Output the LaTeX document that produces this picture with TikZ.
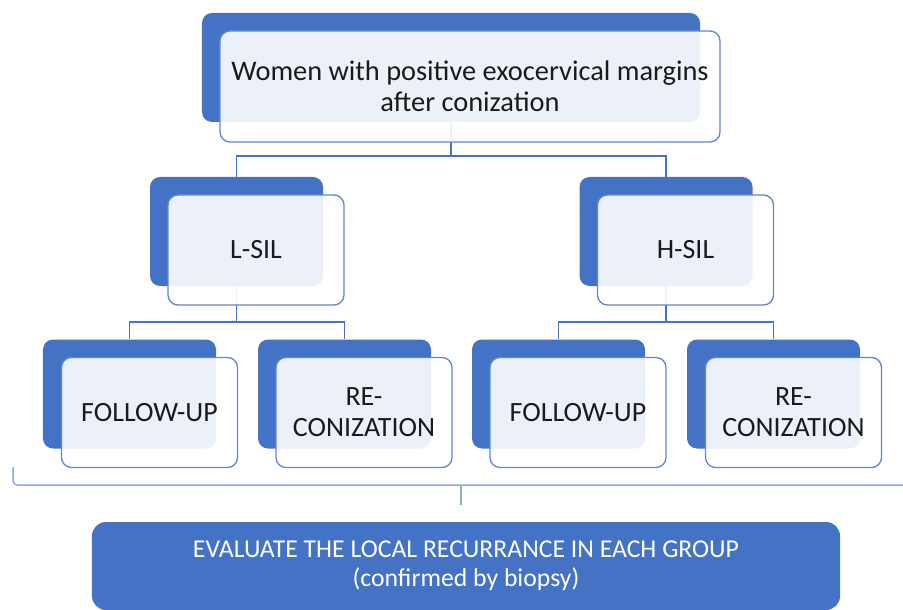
\documentclass[tikz,border=0pt]{standalone}
\usepackage{fontspec}
\setmainfont{Carlito}
\definecolor{accent}{HTML}{4472C4}
\definecolor{bracketblue}{HTML}{8FAADC}
\definecolor{inktext}{HTML}{1A1A1A}
\begin{document}
\begin{tikzpicture}[x=1bp,y=-1bp,
  backbox/.style={fill=accent, draw=none, rounded corners=10bp, inner sep=0pt,
    minimum width=173bp, minimum height=109bp},
  frontbox/.style={fill=white, fill opacity=0.9, text opacity=1, draw=accent!85,
    line width=1.3bp, rounded corners=10bp, inner sep=0pt, align=center,
    minimum width=176bp, minimum height=110bp, text=inktext,
    font=\fontsize{28}{31}\selectfont},
  link/.style={draw=accent, line width=1.5bp},
  bracketline/.style={draw=bracketblue, line width=1.5bp, rounded corners=4bp},
  resultbox/.style={fill=accent, draw=none, rounded corners=14bp, inner sep=0pt,
    minimum width=748bp, minimum height=88bp, align=center, text=white,
    font=\fontsize{25.8}{29.5}\selectfont}]
\useasboundingbox (0,0) rectangle (903,610);

% shadow blocks behind each card
\node[backbox, minimum width=498bp] (topB) at (451,67.5) {};
\node[backbox] (lsilB) at (236.5,231.5) {};
\node[backbox] (hsilB) at (666,231.5) {};
\node[backbox] (fuLB) at (129.5,394) {};
\node[backbox] (rcLB) at (344.5,394) {};
\node[backbox] (fuRB) at (558.5,394) {};
\node[backbox] (rcRB) at (773.5,394) {};

% tree connectors
\draw[link] (topB.south) -- ++(0,34) coordinate (j0) -| (lsilB.north);
\draw[link] (j0) -| (hsilB.north);
\draw[link] (lsilB.south) -- ++(0,36) coordinate (j1) -| (fuLB.north);
\draw[link] (j1) -| (rcLB.north);
\draw[link] (hsilB.south) -- ++(0,36) coordinate (j2) -| (fuRB.north);
\draw[link] (j2) -| (rcRB.north);

% text cards
\node[frontbox, minimum width=500bp, minimum height=111bp,
  font=\fontsize{28.5}{31}\selectfont] (top) at (470,86.5)
  {Women with positive exocervical margins\\after conization};
\node[frontbox] (lsil) at (256,250) {L-SIL};
\node[frontbox] (hsil) at (685.5,250) {H-SIL};
\node[frontbox] (fuL) at (149.5,412.5) {FOLLOW-UP};
\node[frontbox] (rcL) at (364,412.5) {RE-\\CONIZATION};
\node[frontbox] (fuR) at (578,412.5) {FOLLOW-UP};
\node[frontbox] (rcR) at (793.5,412.5) {RE-\\CONIZATION};

% grouping bracket under the four arms
\coordinate (brL) at (13,467);
\coordinate (brC) at (461,485);
\coordinate (brR) at (903,485);
\draw[bracketline] (brL) |- (brR);
\draw[bracketline] (brC) -- ++(0,20);

% outcome
\node[resultbox] (result) at (466,566)
  {EVALUATE THE LOCAL RECURRANCE IN EACH GROUP\\(confirmed by biopsy)};
\end{tikzpicture}
\end{document}
